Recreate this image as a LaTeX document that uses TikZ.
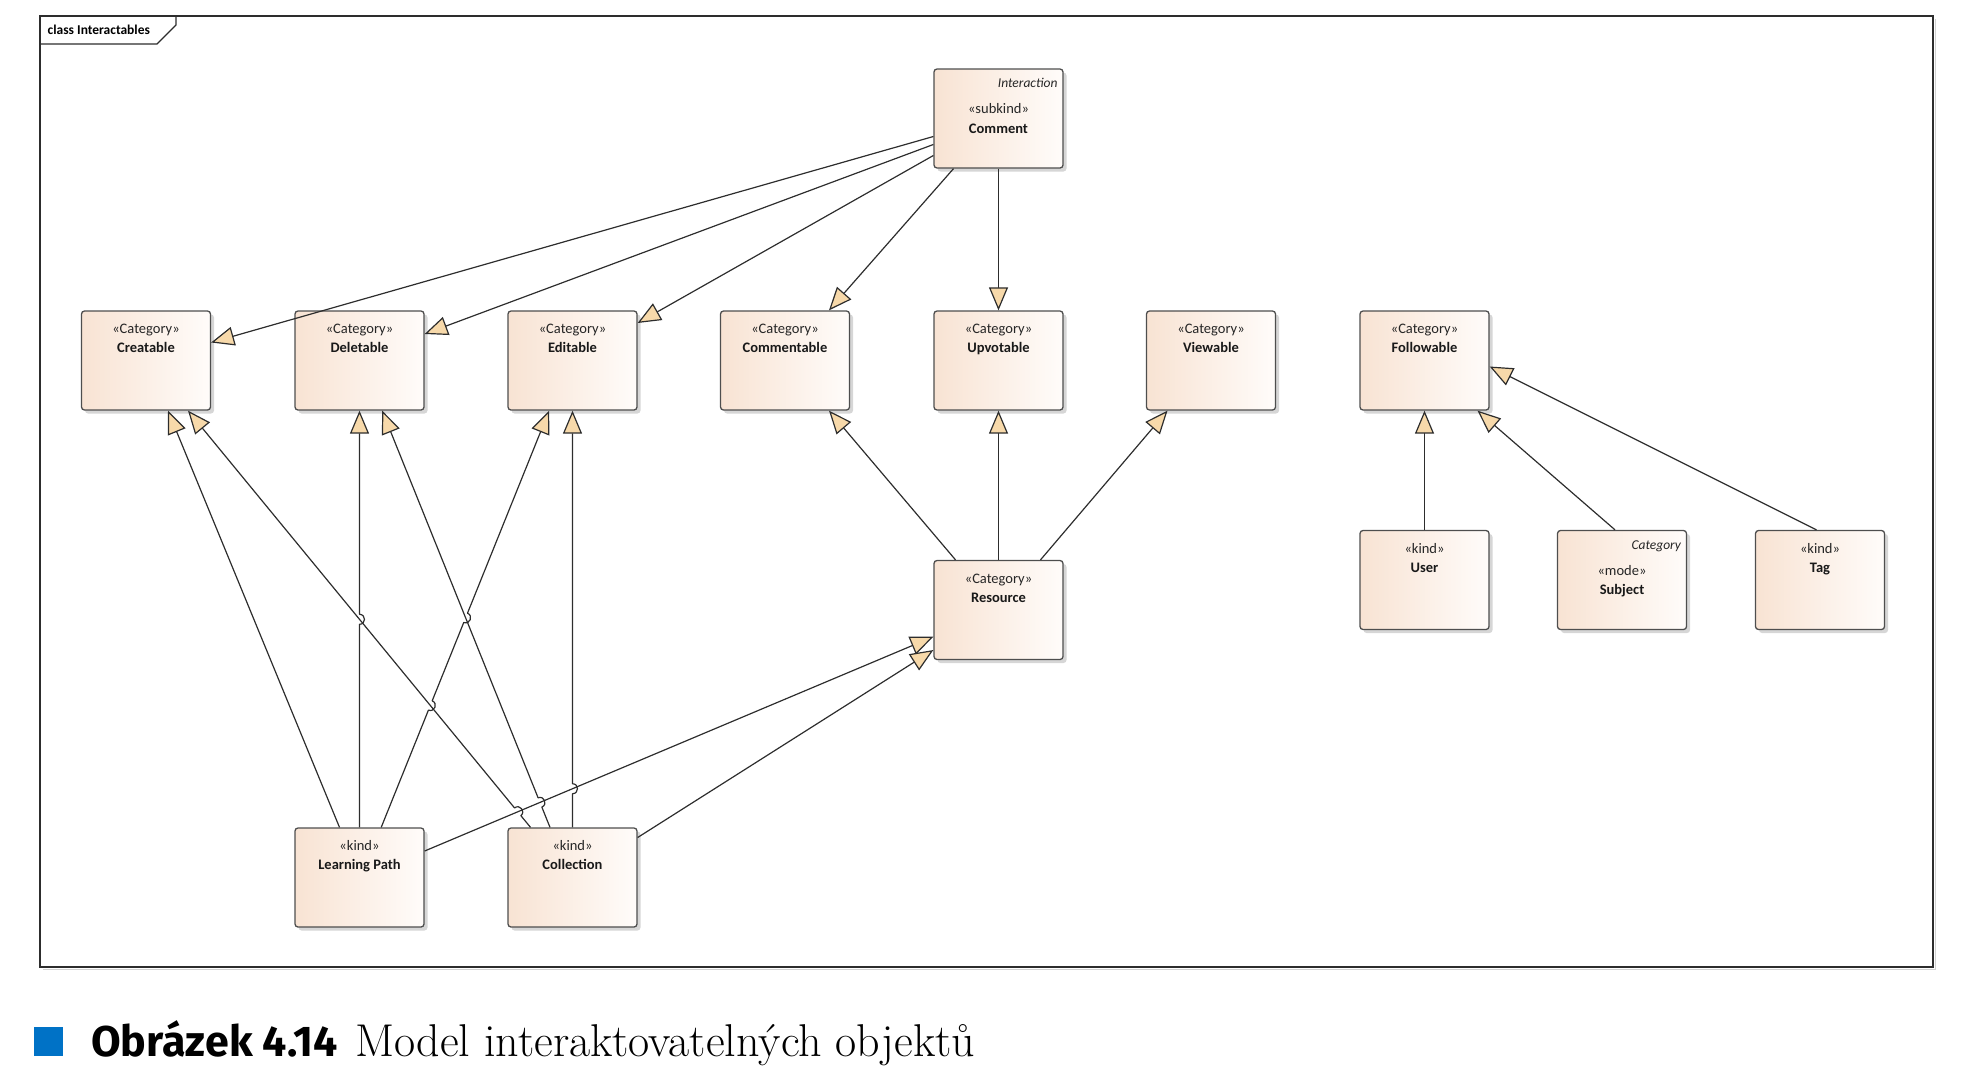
\documentclass[tikz,border=0pt]{standalone}
\usepackage{fontspec}
\usepackage{graphicx}
\newfontfamily\umlfont{Carlito}
\newfontfamily\capsans{Fira Sans}
\usetikzlibrary{arrows.meta,shadows,calc,intersections}

\definecolor{boxl}{RGB}{248,227,211}
\definecolor{boxr}{RGB}{255,252,250}
\definecolor{boxdraw}{RGB}{78,78,78}
\definecolor{arrowfill}{RGB}{247,217,170}
\definecolor{linec}{RGB}{45,45,45}
\definecolor{capblue}{RGB}{0,114,198}

\newcommand\umlclass[5]{%
  \node[umlbox] (#1) at (#2,#3) {};
  \node[stereo, anchor=base] (#1-st) at ([yshift=-23.5pt]#1.north) {«#4»};
  \node[bname, anchor=base] (#1-nm) at ([yshift=-42.3pt]#1.north) {#5};
}
\newcommand\umlclasstag[6]{%
  \node[umlbox] (#1) at (#2,#3) {};
  \node[ital, anchor=base east] (#1-tg) at ([xshift=-6pt,yshift=-19.2pt]#1.north east) {#4};
  \node[stereo, anchor=base] (#1-st) at ([yshift=-45.5pt]#1.north) {«#5»};
  \node[bname, anchor=base] (#1-nm) at ([yshift=-64.8pt]#1.north) {#6};
}

\begin{document}
\begin{tikzpicture}[x=1pt,y=-1pt,
  umlbox/.style={draw=boxdraw, line width=1.3pt, rounded corners=3pt,
    left color=boxl, right color=boxr, minimum width=129pt, minimum height=99pt,
    inner sep=0pt, drop shadow={shadow xshift=3.5pt, shadow yshift=-3.5pt, fill=black, opacity=0.16}},
  gen/.style={draw=linec, line width=1.2pt, line join=round,
    -{Triangle[length=23pt,width=19pt,fill=arrowfill,line join=miter]}},
  hop/.style={bend right=90, looseness=1.7},
  stereo/.style={font=\umlfont\fontsize{14.5}{17}\selectfont, text=black!85, inner sep=0pt},
  bname/.style={font=\umlfont\bfseries\fontsize{14.5}{17}\selectfont, text=black!90, inner sep=0pt},
  ital/.style={font=\umlfont\itshape\fontsize{13.5}{16}\selectfont, text=black!85, inner sep=0pt},
]
\useasboundingbox (0,0) rectangle (1964,1082);

% frame
\draw[gray!35, line width=1.6pt] (43,969.5) -- (1935.5,969.5) -- (1935.5,19);
\draw[linec, line width=1.3pt] (40,16) rectangle (1933,967);
\draw[linec, line width=1.3pt] (40,44) -- (157,44) -- (176,25) -- (176,16);
\node[font=\umlfont\bfseries\fontsize{13.5}{16}\selectfont, anchor=base west, inner sep=0pt] (frametitle) at (47.5,34) {class Interactables};

% classes
\umlclasstag{comment}{998.5}{118.5}{Interaction}{subkind}{Comment}
\umlclass{creatable}{146}{360.5}{Category}{Creatable}
\umlclass{deletable}{359.5}{360.5}{Category}{Deletable}
\umlclass{editable}{572.5}{360.5}{Category}{Editable}
\umlclass{commentable}{785}{360.5}{Category}{Commentable}
\umlclass{upvotable}{998.5}{360.5}{Category}{Upvotable}
\umlclass{viewable}{1211}{360.5}{Category}{Viewable}
\umlclass{followable}{1424.5}{360.5}{Category}{Followable}
\umlclass{resource}{998.5}{610}{Category}{Resource}
\umlclass{user}{1424.5}{580}{kind}{User}
\umlclasstag{subject}{1622}{580}{Category}{mode}{Subject}
\umlclass{tag}{1820}{580}{kind}{Tag}
\umlclass{lp}{359.5}{877.5}{kind}{Learning Path}
\umlclass{coll}{572.5}{877.5}{kind}{Collection}

% simple generalizations
\draw[gen] ([yshift=-18pt]comment.west) -- ([yshift=18pt]creatable.east);
\draw[gen] ([yshift=-26pt]comment.west) -- ([yshift=26.5pt]deletable.east);
\draw[gen] ([yshift=-37pt]comment.west) -- ([yshift=37.5pt]editable.east);
\draw[gen] ([xshift=-45pt]comment.south) -- ([xshift=44pt]commentable.north);
\draw[gen] (comment.south) -- (upvotable.north);
\draw[gen] ([xshift=-43pt]resource.north) -- ([xshift=44pt]commentable.south);
\draw[gen] (resource.north) -- (upvotable.south);
\draw[gen] ([xshift=42pt]resource.north) -- ([xshift=-43.5pt]viewable.south);
\draw[gen] (user.north) -- (followable.south);
\draw[gen] ([xshift=-7pt]subject.north) -- ([xshift=53pt]followable.south);
\draw[gen] ([xshift=-3.5pt]tag.north) -- ([yshift=-6pt]followable.east);
\draw[gen] ([xshift=-20pt]lp.north) -- ([xshift=22pt]creatable.south);

% end points of crossing lines
\coordinate (a13) at (lp.north);
\coordinate (b13) at (deletable.south);
\coordinate (a14) at ([xshift=21.7pt]lp.north);
\coordinate (b14) at ([xshift=-23.4pt]editable.south);
\coordinate (a15) at ([yshift=26.5pt]lp.east);
\coordinate (b15) at ([yshift=-26.7pt]resource.west);
\coordinate (a16) at ([xshift=-42pt]coll.north);
\coordinate (b16) at ([xshift=42pt]creatable.south);
\coordinate (a17) at ([xshift=-22.5pt]coll.north);
\coordinate (b17) at ([xshift=22.7pt]deletable.south);
\coordinate (a18) at (coll.north);
\coordinate (b18) at (editable.south);

\path[name path=p13] (a13) -- (b13);
\path[name path=p14] (a14) -- (b14);
\path[name path=p15] (a15) -- (b15);
\path[name path=p16] (a16) -- (b16);
\path[name path=p17] (a17) -- (b17);
\path[name path=p18] (a18) -- (b18);
\path[name intersections={of=p13 and p16, by=hA}];
\path[name intersections={of=p14 and p17, by=hB}];
\path[name intersections={of=p14 and p16, by=hC}];
\path[name intersections={of=p16 and p15, by=hD}];
\path[name intersections={of=p17 and p15, by=hE}];
\path[name intersections={of=p18 and p15, by=hF}];

\draw[gen] (a15) -- (b15);
\draw[gen] (a13) -- ($(hA)!5pt!(a13)$) to[hop] ($(hA)!5pt!(b13)$) -- (b13);
\draw[gen] (a14) -- ($(hC)!5pt!(a14)$) to[hop] ($(hC)!5pt!(b14)$)
  -- ($(hB)!5pt!(a14)$) to[hop] ($(hB)!5pt!(b14)$) -- (b14);
\draw[gen] (a16) -- ($(hD)!5pt!(a16)$) to[hop] ($(hD)!5pt!(b16)$)
  -- ($(hA)!5pt!(a16)$) -- (b16);
\draw[gen] (a17) -- ($(hE)!5pt!(a17)$) to[hop] ($(hE)!5pt!(b17)$) -- (b17);
\draw[gen] (a18) -- ($(hF)!5pt!(a18)$) to[hop] ($(hF)!5pt!(b18)$) -- (b18);
\draw[gen] ([yshift=40pt]coll.east) -- ([yshift=-40pt]resource.west);

% caption
\fill[capblue] (34,1027) rectangle (63,1056);
\node[anchor=base west, inner sep=0pt] (capnum) at (91,1056)
  {\capsans\bfseries\fontsize{43}{50}\selectfont Obrázek 4.14};
\node[anchor=base west, inner sep=0pt, font=\fontsize{46}{54}\selectfont] (captext) at (355,1056)
  {Model interaktovatelných objektů};
\end{tikzpicture}
\end{document}
